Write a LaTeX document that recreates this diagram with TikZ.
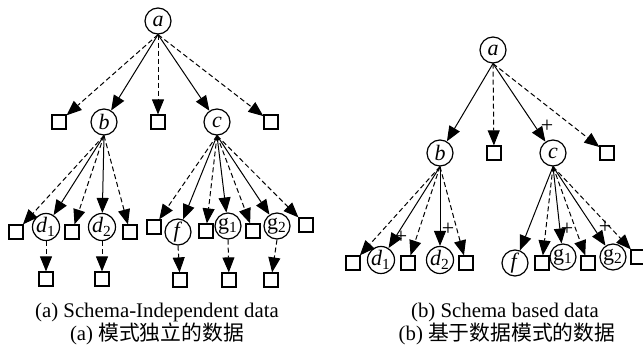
\documentclass[tikz,border=0pt]{standalone}
\usepackage{fontspec}
\setmainfont{Liberation Serif}
\newfontfamily\cjk{Noto Sans CJK SC}
\usetikzlibrary{arrows.meta}

\begin{document}
\begin{tikzpicture}[
  x=0.5pt, y=-0.5pt,
  el/.style={circle, draw, line width=0.6pt, minimum size=13pt, inner sep=0pt, font=\fontsize{11}{11}\selectfont},
  val/.style={rectangle, draw, line width=0.6pt, minimum size=7pt, inner sep=0pt},
  sub/.style={line width=0.5pt, -{Triangle[length=7.5pt, width=6pt]}},
  opt/.style={sub, dash pattern=on 2.5pt off 1.5pt},
  plus/.style={inner sep=0pt, font=\fontsize{11}{11}\selectfont},
  caption/.style={font=\fontsize{10.4}{12}\selectfont}
]
  \useasboundingbox (0,0) rectangle (643,352);

  % (a) schema-independent data
  \node[el] (a) at (158,21) {\textit{a}};
  \node[val] (la1) at (59,122) {};
  \node[el]  (b)   at (104,122) {\textit{b}};
  \node[val] (la2) at (158,122) {};
  \node[el]  (c)   at (217,122) {\textit{c}};
  \node[val] (la3) at (271,122) {};

  \node[val] (lb1) at (16,232) {};
  \node[el]  (d1)  at (46,227) {\textit{d}\textsubscript{1}};
  \node[val] (lb2) at (72,232) {};
  \node[el]  (d2)  at (102,227) {\textit{d}\textsubscript{2}};
  \node[val] (lb3) at (130,232) {};

  \node[val] (lc1) at (154,227) {};
  \node[el]  (f)   at (178,232) {\textit{f}};
  \node[val] (lc2) at (206,231) {};
  \node[el]  (g1)  at (228,226) {g\textsubscript{1}};
  \node[val] (lc3) at (253,231) {};
  \node[el]  (g2)  at (277,226) {g\textsubscript{2}};
  \node[val] (lc4) at (306,225) {};

  \node[val] (ld1) at (46,279) {};
  \node[val] (ld2) at (102,279) {};
  \node[val] (lf)  at (180,280) {};
  \node[val] (lg1) at (229,280) {};
  \node[val] (lg2) at (271,280) {};

  \draw[opt] (a.south) -- (la1);
  \draw[sub] (a.south) -- (b);
  \draw[opt] (a.south) -- (la2);
  \draw[sub] (a.south) -- (c);
  \draw[opt] (a.south) -- (la3);

  \draw[opt] (b.south) -- (lb1);
  \draw[sub] (b.south) -- (d1);
  \draw[opt] (b.south) -- (lb2);
  \draw[sub] (b.south) -- (d2);
  \draw[opt] (b.south) -- (lb3);

  \draw[opt] (c.south) -- (lc1);
  \draw[sub] (c.south) -- (f);
  \draw[opt] (c.south) -- (lc2);
  \draw[sub] (c.south) -- (g1);
  \draw[opt] (c.south) -- (lc3);
  \draw[sub] (c.south) -- (g2);
  \draw[opt] (c.south) -- (lc4);

  \draw[opt] (d1.south) -- (ld1);
  \draw[opt] (d2.south) -- (ld2);
  \draw[opt] (f.south) -- (lf);
  \draw[opt] (g1.south) -- (lg1);
  \draw[opt] (g2.south) -- (lg2);

  \node[caption] (capa) at (157,312) {(a) Schema-Independent data};
  \node[caption] (capac) at (157,334) {(a)\ {\cjk 模式独立的数据}};

  % (b) schema based data
  \node[el] (ra) at (493,50) {\textit{a}};
  \node[el]  (rb)  at (440,153) {\textit{b}};
  \node[val] (rs1) at (494,153) {};
  \node[el]  (rc)  at (553,153) {\textit{c}};
  \node[val] (rs2) at (607,153) {};

  \node[val] (rs3) at (353,263) {};
  \node[el]  (rd1) at (381,260) {\textit{d}\textsubscript{1}};
  \node[val] (rs4) at (408,263) {};
  \node[el]  (rd2) at (440,260) {\textit{d}\textsubscript{2}};
  \node[val] (rs5) at (466,263) {};

  \node[el]  (rf)  at (515,263) {\textit{f}};
  \node[val] (rs6) at (542,263) {};
  \node[el]  (rg1) at (563,257) {g\textsubscript{1}};
  \node[val] (rs7) at (588,263) {};
  \node[el]  (rg2) at (613,257) {g\textsubscript{2}};
  \node[val] (rs8) at (638,257) {};

  \draw[sub] (ra.south) -- (rb);
  \draw[opt] (ra.south) -- (rs1);
  \draw[sub] (ra.south) -- (rc);
  \draw[opt] (ra.south) -- (rs2);

  \draw[opt] (rb.south) -- (rs3);
  \draw[sub] (rb.south) -- (rd1);
  \draw[opt] (rb.south) -- (rs4);
  \draw[sub] (rb.south) -- (rd2);
  \draw[opt] (rb.south) -- (rs5);

  \draw[sub] (rc.south) -- (rf);
  \draw[opt] (rc.south) -- (rs6);
  \draw[sub] (rc.south) -- (rg1);
  \draw[opt] (rc.south) -- (rs7);
  \draw[sub] (rc.south) -- (rg2);
  \draw[opt] (rc.south) -- (rs8);

  \node[plus] (pc)  at (547,126) {+};
  \node[plus] (pd1) at (401,237) {+};
  \node[plus] (pd2) at (448,229) {+};
  \node[plus] (pg1) at (567,229) {+};
  \node[plus] (pg2) at (605,227) {+};

  \node[caption] (capb) at (505,312) {(b) Schema based data};
  \node[caption] (capbc) at (507,334) {(b)\ {\cjk 基于数据模式的数据}};
\end{tikzpicture}
\end{document}
